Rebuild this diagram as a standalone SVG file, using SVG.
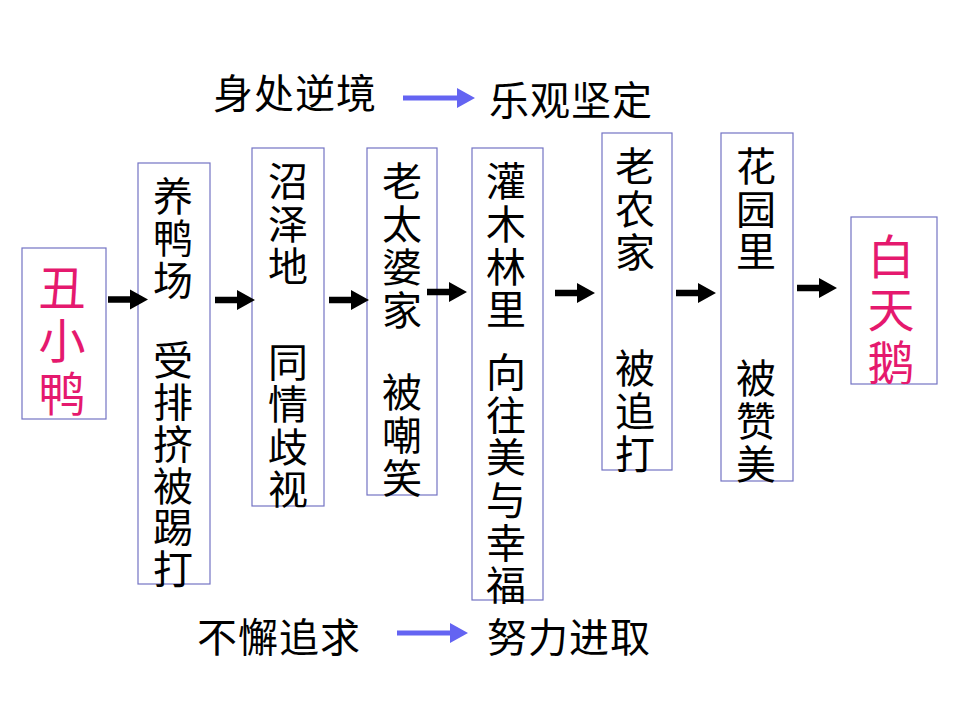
<svg xmlns="http://www.w3.org/2000/svg" xmlns:xlink="http://www.w3.org/1999/xlink" width="960" height="720" viewBox="0 0 960 720">
<style>
.box{fill:#fff;stroke:#7373c4;stroke-width:1.2}
.t{font-family:"Noto Sans CJK SC","Noto Sans CJK JP",sans-serif;fill:#000}
.v{writing-mode:vertical-rl;font-size:40px;text-anchor:start}
.v2{letter-spacing:2.5px}
.p{font-size:47px;fill:#e5196e;letter-spacing:6px}
.h{font-size:40px;letter-spacing:1px;dominant-baseline:central}
</style>
<defs>
<path id="blk" d="M0,-3.3 H22 V-10 L40,0 L22,10 V3.3 H0 Z" fill="#000"/>
</defs>
<rect width="960" height="720" fill="#fff"/>
<g id="labels">
<text class="t h" x="213" y="91">身处逆境</text>
<text class="t h" x="489" y="98">乐观坚定</text>
<text class="t h" x="197" y="635">不懈追求</text>
<text class="t h" x="487" y="635">努力进取</text>
</g>
<g id="n1">
<rect class="box" x="22" y="248" width="84" height="171"/>
<text class="t v p" x="62" y="263.5">丑小鸭</text>
</g>
<g id="n2">
<rect class="box" x="138" y="163" width="72" height="421"/>
<text class="t v" x="173" y="176" style="letter-spacing:2px">养鸭场</text>
<text class="t v" x="173" y="340" style="letter-spacing:1.8px">受排挤被踢打</text>
</g>
<g id="n3">
<rect class="box" x="252" y="148" width="72" height="358"/>
<text class="t v" x="288" y="161" style="letter-spacing:2.5px">沼泽地</text>
<text class="t v" x="288" y="342" style="letter-spacing:2.3px">同情歧视</text>
</g>
<g id="n4">
<rect class="box" x="367" y="148" width="70" height="347"/>
<text class="t v" x="402" y="161" style="letter-spacing:3px">老太婆家</text>
<text class="t v" x="402" y="372" style="letter-spacing:3px">被嘲笑</text>
</g>
<g id="n5">
<rect class="box" x="472" y="148" width="71" height="452"/>
<text class="t v" x="506" y="161" style="letter-spacing:2.7px">灌木林里</text>
<text class="t v" x="506" y="352" style="letter-spacing:2.6px">向往美与幸福</text>
</g>
<g id="n6">
<rect class="box" x="602" y="133" width="70" height="337"/>
<text class="t v" x="635" y="146" style="letter-spacing:3px">老农家</text>
<text class="t v" x="635" y="348" style="letter-spacing:3px">被追打</text>
</g>
<g id="n7">
<rect class="box" x="721" y="133" width="72" height="348"/>
<text class="t v" x="756" y="146" style="letter-spacing:2.5px">花园里</text>
<text class="t v" x="756" y="358" style="letter-spacing:3px">被赞美</text>
</g>
<g id="n8">
<rect class="box" x="851" y="217" width="86" height="167"/>
<text class="t v p" x="891" y="232.5">白天鹅</text>
</g>
<g id="connectors">
<use xlink:href="#blk" x="108" y="299.5"/>
<use xlink:href="#blk" x="215" y="300"/>
<use xlink:href="#blk" x="329" y="300"/>
<use xlink:href="#blk" x="427" y="292"/>
<use xlink:href="#blk" x="555" y="293"/>
<use xlink:href="#blk" x="676" y="293"/>
<use xlink:href="#blk" x="797" y="288"/>
<path d="M403,95.5 H457 V88 L475,98 L457,108 V100.5 H403 Z" fill="#6464f2"/>
<path d="M397,630.5 H450 V623 L468,633 L450,643 V635.5 H397 Z" fill="#6464f2"/>
</g>
</svg>
